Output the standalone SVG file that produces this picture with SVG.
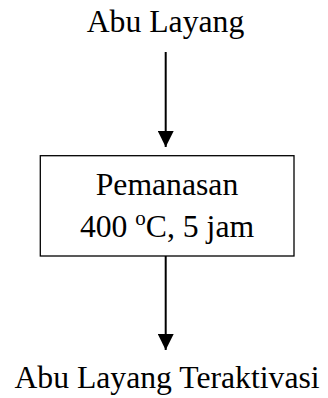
<svg xmlns="http://www.w3.org/2000/svg" width="328" height="398" viewBox="0 0 328 398">
  <style>
    .lbl { font-family: "Liberation Serif", "Times New Roman", serif; font-size: 31.7px; fill: #000; text-anchor: middle; }
    .box { fill: #fff; stroke: #000; stroke-width: 1.3; }
    .edge { stroke: #000; stroke-width: 2; fill: none; }
  </style>
  <defs>
    <marker id="arrow" markerUnits="userSpaceOnUse" markerWidth="16" markerHeight="16" refX="16" refY="8" orient="auto">
      <path d="M0,0 L16,8 L0,16 Z" fill="#000"/>
    </marker>
  </defs>
  <rect width="328" height="398" fill="#fff"/>

  <g id="abu-layang">
    <text class="lbl" x="165.5" y="31.7">Abu Layang</text>
  </g>

  <g id="pemanasan">
    <rect class="box" x="40.3" y="155.7" width="253.7" height="100.3"/>
    <text class="lbl" x="167" y="195">Pemanasan</text>
    <text class="lbl" x="167" y="237">400 <tspan font-size="21" dy="-12">o</tspan><tspan dy="12">C, 5 jam</tspan></text>
  </g>

  <g id="abu-layang-teraktivasi">
    <text class="lbl" x="167" y="388">Abu Layang Teraktivasi</text>
  </g>

  <g id="connectors">
    <line class="edge" x1="165.7" y1="52" x2="165.7" y2="147" marker-end="url(#arrow)"/>
    <line class="edge" x1="165.7" y1="256" x2="165.7" y2="350" marker-end="url(#arrow)"/>
  </g>
</svg>
